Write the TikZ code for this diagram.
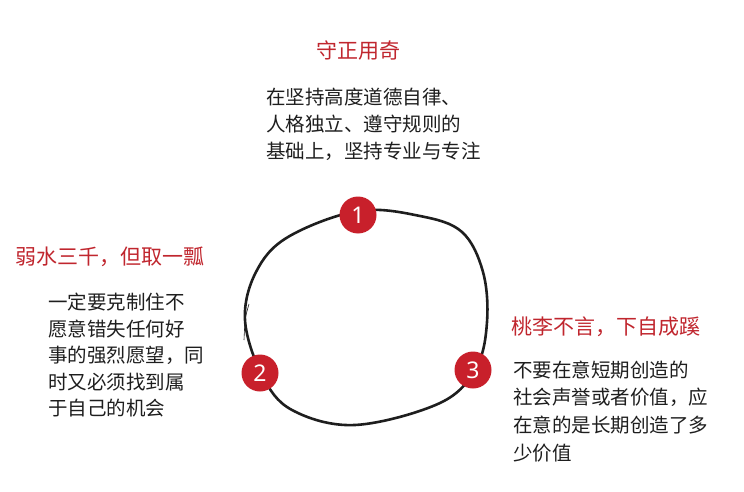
\documentclass[tikz,border=0pt]{standalone}
\usepackage{fontspec}
\newfontfamily\cjk{Noto Sans CJK SC}
\newfontfamily\numfont{Noto Sans}
\definecolor{tred}{HTML}{C0262E}
\definecolor{nred}{HTML}{C8202B}
\definecolor{ink}{HTML}{1E1E1E}
\begin{document}
\begin{tikzpicture}[x=1pt,y=-1pt]
\tikzset{
  title/.style={text=tred, font=\cjk\fontsize{21}{25}\selectfont, inner sep=0pt},
  body/.style={text=ink, font=\cjk\fontsize{19.5}{22}\selectfont, inner sep=0pt, anchor=west},
  num/.style={circle, fill=nred, minimum size=37pt, inner sep=0pt, text=white, font=\numfont\fontsize{23}{25}\selectfont},
  ring/.style={ink, line width=2.6pt, line cap=round}
}
\useasboundingbox (0,0) rectangle (744,492);
% ring
\draw[ring] plot[smooth cycle, tension=0.6] coordinates {
  (358,211) (420,216) (462,232) (483,272) (487,322) (476,368)
  (440,403) (355,425) (292,410) (262,375) (245,320) (256,272) (288,237)};
\draw[ink, line width=0.6pt] (249,304) .. controls (245,318) .. (244,340);
% numbered nodes
\node[num] (n1) at (358,215) {1};
\node[num] (n2) at (260,373) {2};
\node[num] (n3) at (473,370) {3};
% block 1
\node[title] (t1) at (358,51) {守正用奇};
\foreach \t [count=\i] in {在坚持高度道德自律、,人格独立、遵守规则的,基础上，坚持专业与专注}
  \node[body] (a\i) at (266,{97+27*(\i-1)}) {\t};
% block 2
\node[title, anchor=west] (t2) at (15,257) {弱水三千，但取一瓢};
\foreach \t [count=\i] in {一定要克制住不,愿意错失任何好,事的强烈愿望，同,时又必须找到属,于自己的机会}
  \node[body] (b\i) at (48,{302+26.6*(\i-1)}) {\t};
% block 3
\node[title, anchor=west] (t3) at (511,327) {桃李不言，下自成蹊};
\foreach \t [count=\i] in {不要在意短期创造的,社会声誉或者价值，应,在意的是长期创造了多,少价值}
  \node[body] (c\i) at (513,{370+27.7*(\i-1)}) {\t};
\end{tikzpicture}
\end{document}
